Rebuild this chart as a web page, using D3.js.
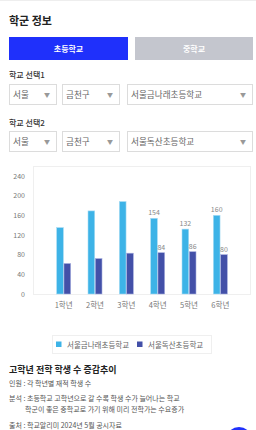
<!DOCTYPE html>
<html>
<head>
<meta charset="utf-8">
<script src="https://cdn.jsdelivr.net/npm/d3@7"></script>
<style>
  body { margin: 0; background: #fff; }
  svg { display: block; font-family: "Noto Sans CJK KR", "Noto Sans", sans-serif; }
</style>
</head>
<body>
<div id="page"></div>
<script>
// chart data
var grades = ["1학년", "2학년", "3학년", "4학년", "5학년", "6학년"];
var schoolNames = ["서울금나래초등학교", "서울독산초등학교"];
var school1 = [135, 169, 188, 154, 132, 160];
var school2 = [62, 72, 83, 84, 86, 80];
var yTicks = [0, 40, 80, 120, 160, 200, 240];
// only these grades carry a value label
var labelled = ["4학년", "5학년", "6학년"];

var colors = ["#3db3e7", "#4350a8"];

var svg = d3.select("#page").append("svg")
    .attr("width", 256)
    .attr("height", 430);

// header
svg.append("line").attr("x1", 0).attr("x2", 256).attr("y1", 0.5).attr("y2", 0.5)
    .attr("stroke", "#eee");
svg.append("text").attr("x", 9).attr("y", 25)
    .attr("font-size", 11).attr("font-weight", 700).attr("fill", "#222")
    .text("학군 정보");

// tab buttons
var tabs = [
  {label: "초등학교", x: 9, w: 119, fill: "#1f30fb"},
  {label: "중학교", x: 135, w: 118, fill: "#c4c6ce"}
];
tabs.forEach(function(t){
  svg.append("rect").attr("x", t.x).attr("y", 37).attr("width", t.w).attr("height", 23)
      .attr("fill", t.fill);
  svg.append("text").attr("x", t.x + t.w / 2).attr("y", 51.5)
      .attr("text-anchor", "middle").attr("font-size", 8).attr("font-weight", 700)
      .attr("fill", "#fff").text(t.label);
});

// school selectors
var selectors = [
  {title: "학교 선택1", ty: 77.5, y: 84, values: ["서울", "금천구", "서울금나래초등학교"]},
  {title: "학교 선택2", ty: 125.5, y: 131, values: ["서울", "금천구", "서울독산초등학교"]}
];
var boxes = [{x: 9, w: 47}, {x: 62, w: 57}, {x: 127, w: 125}];

selectors.forEach(function(s){
  svg.append("text").attr("x", 9).attr("y", s.ty)
      .attr("font-size", 8).attr("font-weight", 500).attr("fill", "#333")
      .text(s.title);
  boxes.forEach(function(b, i){
    svg.append("rect").attr("x", b.x + 0.5).attr("y", s.y + 0.5)
        .attr("width", b.w).attr("height", 20)
        .attr("fill", "#fff").attr("stroke", "#dcdcdc");
    svg.append("text").attr("x", b.x + 4).attr("y", s.y + 14)
        .attr("font-size", 8.6).attr("fill", "#666").text(s.values[i]);
    svg.append("text").attr("x", b.x + b.w - 9).attr("y", s.y + 13)
        .attr("text-anchor", "middle").attr("font-size", 6).attr("fill", "#999")
        .text("▼");
  });
});

// bar chart
svg.append("rect").attr("x", 33.5).attr("y", 166.5).attr("width", 217).attr("height", 128)
    .attr("fill", "none").attr("stroke", "#efefef");

var x = d3.scaleBand().domain(grades).range([48, 236]);
var x1 = d3.scaleBand().domain([0, 1]).range([x.bandwidth() / 2 - 7, x.bandwidth() / 2 + 7]).paddingInner(0.08);
var y = d3.scaleLinear().domain([0, 240]).range([294, 176]);

var yAxis = svg.append("g").attr("transform", "translate(25,0)")
    .attr("color", "#777")
    .call(d3.axisLeft(y).tickValues(yTicks).tickSize(0).tickPadding(0));
yAxis.select(".domain").remove();
yAxis.selectAll("text").attr("font-size", 7).attr("fill", "#777")
    .attr("font-family", "\"Noto Sans CJK KR\", sans-serif");

var xAxis = svg.append("g").attr("transform", "translate(0,303)")
    .attr("color", "#777")
    .call(d3.axisBottom(x).tickSize(0).tickPadding(0));
xAxis.select(".domain").remove();
xAxis.selectAll("text").attr("font-size", 7.5).attr("fill", "#777")
    .attr("font-family", "\"Noto Sans CJK KR\", sans-serif");

var series = [school1, school2];
series.forEach(function(vals, si){
  var g = svg.append("g");
  g.selectAll("rect").data(grades).enter().append("rect")
      .attr("x", function(d){ return x(d) + x1(si); })
      .attr("y", function(d, i){ return y(vals[i]); })
      .attr("width", x1.bandwidth())
      .attr("height", function(d, i){ return y(0) - y(vals[i]); })
      .attr("fill", colors[si])
      .attr("stroke", si == 0 ? "#a9dcf4" : "#a6aede")
      .attr("stroke-width", 0.6);

  g.selectAll("text").data(grades.filter(function(d){ return labelled.indexOf(d) >= 0; }))
      .enter().append("text")
      .attr("x", function(d){ return x(d) + x1(si) + x1.bandwidth() / 2; })
      .attr("y", function(d){ return y(vals[grades.indexOf(d)]) - 3; })
      .attr("text-anchor", "middle").attr("font-size", 7).attr("fill", "#888")
      .text(function(d){ return vals[grades.indexOf(d)]; });
});

// legend
svg.append("rect").attr("x", 52.5).attr("y", 335.5).attr("width", 159).attr("height", 18)
    .attr("fill", "none").attr("stroke", "#efefef");
var legendX = [56, 137];
schoolNames.forEach(function(name, i){
  svg.append("rect").attr("x", legendX[i]).attr("y", 341.5).attr("width", 5.5).attr("height", 5.5)
      .attr("fill", colors[i]);
  svg.append("text").attr("x", legendX[i] + 11).attr("y", 347.5)
      .attr("font-size", 7.5).attr("fill", "#666").text(name);
});

// notes
svg.append("text").attr("x", 9).attr("y", 372.5)
    .attr("font-size", 9).attr("font-weight", 700).attr("fill", "#222")
    .text("고학년 전학 학생 수 증감추이");
var notes = [
  {x: 9, y: 385.5, t: "인원 : 각 학년별 재적 학생 수"},
  {x: 9, y: 401, t: "분석 : 초등학교 고학년으로 갈 수록 학생 수가 늘어나는 학교"},
  {x: 25, y: 411.5, t: "학군이 좋은 중학교로 가기 위해 미리 전학가는 수요증가"},
  {x: 9, y: 427.5, t: "출처 : 학교알리미 2024년 5월 공시자료"}
];
notes.forEach(function(n){
  svg.append("text").attr("x", n.x).attr("y", n.y)
      .attr("font-size", 7).attr("fill", "#555").text(n.t);
});

// floating button
svg.append("circle").attr("cx", 239).attr("cy", 440).attr("r", 13).attr("fill", "#1f30fb");
</script>
</body>
</html>
